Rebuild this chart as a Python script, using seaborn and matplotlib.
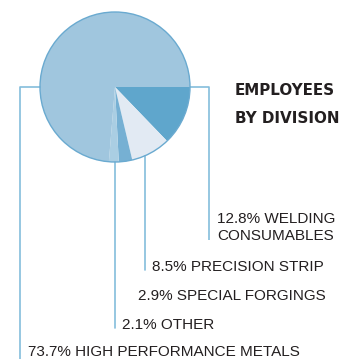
import matplotlib
matplotlib.use("Agg")
import matplotlib.pyplot as plt
import seaborn as sns
from matplotlib.patches import Circle

sns.set_theme(style="white")
plt.rcParams['font.family'] = ['Liberation Sans', 'DejaVu Sans']

divisions = ["WELDING\nCONSUMABLES", "PRECISION STRIP", "SPECIAL FORGINGS", "OTHER",
             "HIGH PERFORMANCE METALS"]
shares = [12.8, 8.5, 2.9, 2.1, 73.7]
colors = ["#5fa6cc", "#e2eaf3", "#76b0d3", "#aacee3", "#a0c6de"]
title_lines = ["EMPLOYEES", "BY DIVISION"]

W, H = 339, 359
fig = plt.figure(figsize=(W / 100, H / 100), dpi=100)
ax = fig.add_axes([0, 0, 1, 1])

def Y(p):
    return H - p

cx, cy, r = 115, 87, 75
ax.pie(shares, colors=colors, startangle=0, counterclock=False,
       center=(cx, Y(cy)), radius=r, wedgeprops=dict(linewidth=0),
       frame=True)
ax.set_xlim(0, W)
ax.set_ylim(0, H)
ax.axis("off")
ax.add_patch(Circle((cx, Y(cy)), r, fill=False, edgecolor="#6aaad0", lw=1.0, zorder=5))

lc = "#84bddc"
lw = 1.2
# leader lines
ax.plot([cx + r, 209, 209], [Y(87), Y(87), Y(240)], color=lc, lw=lw, solid_capstyle="butt")
ax.plot([145, 145], [Y(156), Y(270)], color=lc, lw=lw)
ax.plot([115, 115], [Y(162), Y(328)], color=lc, lw=lw)
ax.plot([cx - r, 20, 20], [Y(87), Y(87), Y(359)], color=lc, lw=lw)

tc = "#231f20"
fs = 11
labels = [f"{s}% {d}" for s, d in zip(shares, divisions)]
wl = labels[0].split("\n")
ax.text(217, Y(223), wl[0], fontsize=fs, color=tc, va="baseline", ha="left")
ax.text(217, Y(240.5), wl[1], fontsize=fs, color=tc, va="baseline", ha="left")
ax.text(152, Y(271), labels[1], fontsize=fs, color=tc, va="baseline", ha="left")
ax.text(138, Y(300), labels[2], fontsize=fs, color=tc, va="baseline", ha="left")
ax.text(122, Y(329), labels[3], fontsize=fs, color=tc, va="baseline", ha="left")
ax.text(28, Y(356.5), labels[4], fontsize=fs, color=tc, va="baseline", ha="left")

ax.text(235, Y(95), title_lines[0], fontsize=10.9, fontweight="heavy", color=tc,
        va="baseline", ha="left", family=["DejaVu Sans"])
ax.text(235, Y(123), title_lines[1], fontsize=10.9, fontweight="heavy", color=tc,
        va="baseline", ha="left", family=["DejaVu Sans"])

fig.savefig("out.png", dpi=100)
